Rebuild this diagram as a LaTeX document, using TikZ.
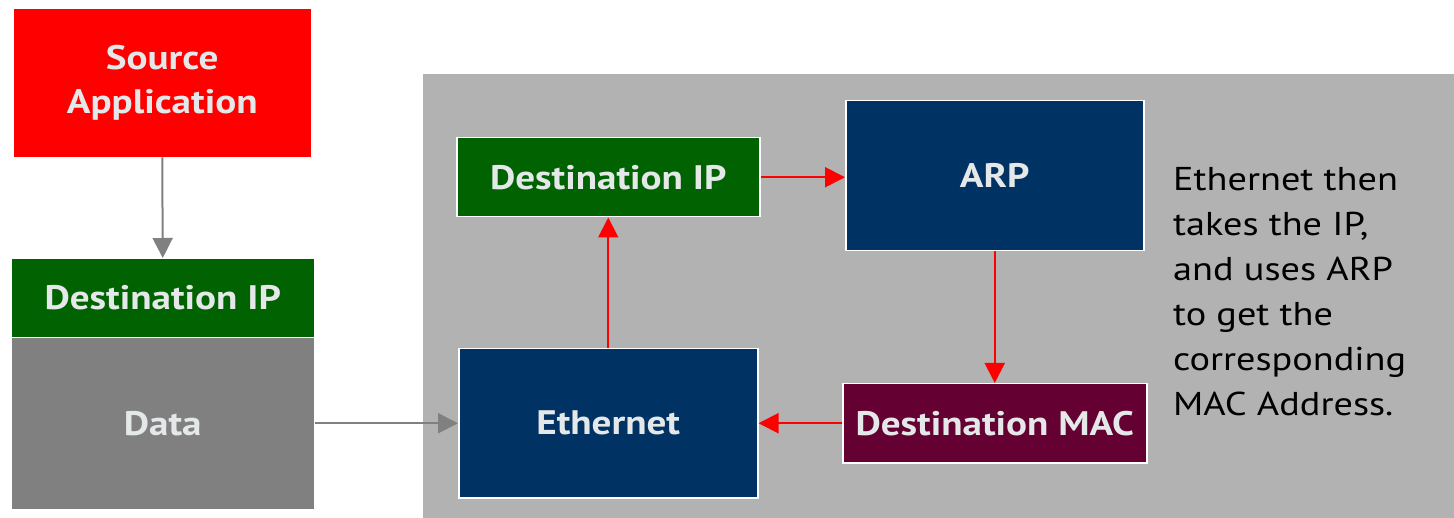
\documentclass[tikz,border=0pt]{standalone}
\usepackage{fontspec}
\setmainfont{PT Sans}
\newfontfamily\boxfont[FakeStretch=1.15]{PT Sans}
\newfontfamily\notefont[FakeStretch=1.16]{PT Sans}
\usetikzlibrary{arrows.meta}
\definecolor{srcred}{RGB}{255,0,0}
\definecolor{dipgreen}{RGB}{0,98,0}
\definecolor{datagray}{RGB}{128,128,128}
\definecolor{panelgray}{RGB}{178,178,178}
\definecolor{navy}{RGB}{0,50,100}
\definecolor{macred}{RGB}{100,0,50}
\definecolor{txtlight}{RGB}{228,232,232}
\definecolor{arrowgray}{RGB}{128,128,128}
\tikzset{
  box/.style={draw=white, line width=1.5pt, text=txtlight, font=\boxfont\fontsize{34}{44}\selectfont\bfseries, align=center, inner sep=0pt, anchor=north west},
  plainbox/.style={box, draw=none},
  redarrow/.style={draw=red, line width=2pt, -{Triangle[length=20pt,width=20pt]}},
  grayarrow/.style={draw=arrowgray, line width=2pt, -{Triangle[length=20pt,width=20pt]}}
}
\begin{document}
\begin{tikzpicture}[x=1pt,y=-1pt]
\useasboundingbox (0,0) rectangle (1454,518);
\fill[panelgray] (423,74) rectangle (1454,518);
% left column
\node[plainbox, fill=srcred, minimum width=297pt, minimum height=148pt] (src) at (13,8) {Source\\Application};
\node[plainbox, fill=dipgreen, minimum width=302pt, minimum height=78pt] (dip1) at (11,258) {Destination IP};
\node[plainbox, fill=datagray, minimum width=302pt, minimum height=171pt] (data) at (11,337) {Data};
% panel boxes
\node[box, fill=dipgreen, minimum width=303pt, minimum height=79pt] (dip2) at (456,137) {Destination IP};
\node[box, fill=navy, minimum width=298pt, minimum height=150pt] (arp) at (845,100) {ARP};
\node[box, fill=navy, minimum width=299pt, minimum height=149pt] (eth) at (458,348) {Ethernet};
\node[box, fill=macred, minimum width=304pt, minimum height=79pt] (mac) at (842,383) {Destination MAC};
\node[anchor=north west, align=left, inner sep=0pt, font=\notefont\fontsize{33}{45}\selectfont, text=black] (note) at (1173,167) {Ethernet then\\takes the IP,\\and uses ARP\\to get the\\corresponding\\MAC Address.};
% connectors
\draw[grayarrow] (src.south) -- (dip1.north);
\draw[grayarrow] (data.east) -- (eth.west);
\draw[redarrow] (dip2.east) -- (arp.west |- dip2.east);
\draw[redarrow] (arp.south) -- (arp.south |- mac.north);
\draw[redarrow] (mac.west) -- (eth.east |- mac.west);
\draw[redarrow] (eth.north) -- (dip2.south);
\end{tikzpicture}
\end{document}
